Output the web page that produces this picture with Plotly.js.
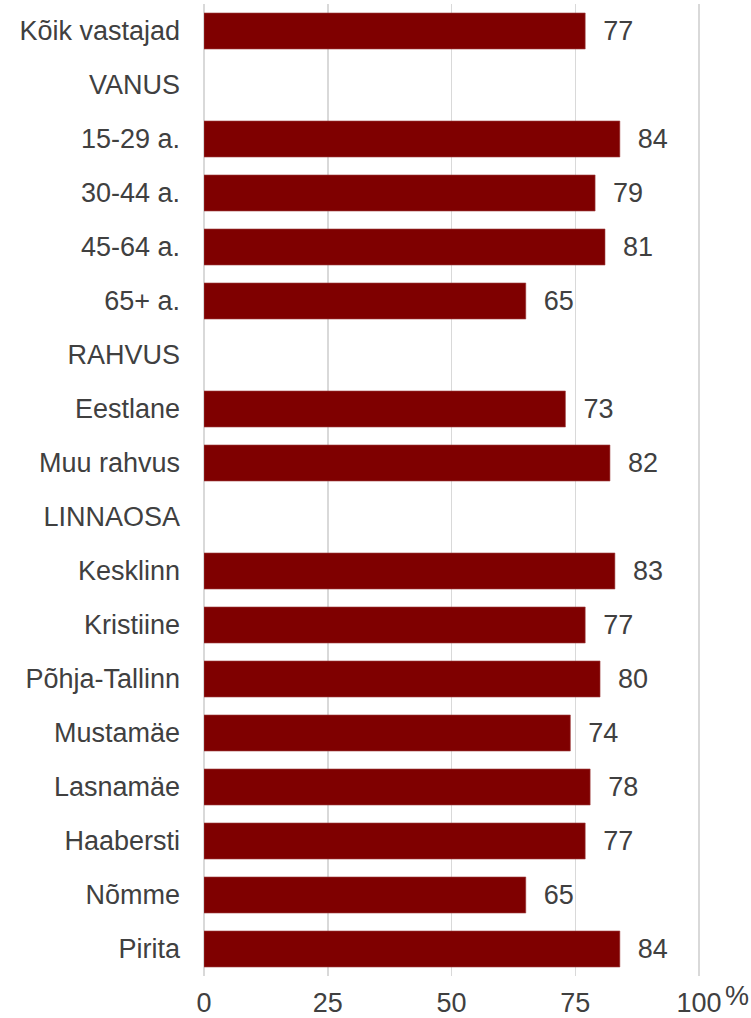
<!DOCTYPE html>
<html>
<head>
<meta charset="utf-8">
<script src="https://cdn.plot.ly/plotly-3.0.1.min.js"></script>
<style>
html,body{margin:0;padding:0;background:#fff;}
#chart{width:751px;height:1018px;}
</style>
</head>
<body>
<div id="chart"></div>
<script>
const categories = ["Kõik vastajad","VANUS","15-29 a.","30-44 a.","45-64 a.","65+ a.","RAHVUS","Eestlane","Muu rahvus","LINNAOSA","Kesklinn","Kristiine","Põhja-Tallinn","Mustamäe","Lasnamäe","Haabersti","Nõmme","Pirita"];
const values = [77,null,84,79,81,65,null,73,82,null,83,77,80,74,78,77,65,84];
const xTicks = [0,25,50,75,100];
const unitLabel = "%";

const trace = {
  type: "bar",
  orientation: "h",
  y: categories,
  x: values,
  marker: {color: "#7f0000", line: {color: "#a04040", width: 0.6}},
  texttemplate: "\u00a0\u00a0%{x}",
  textposition: "outside",
  cliponaxis: false,
  textfont: {family: "Liberation Sans, Arial, sans-serif", size: 27, color: "#404040"},
  hoverinfo: "none"
};

const layout = {
  width: 751, height: 1018,
  margin: {l: 203.5, r: 47, t: 4, b: 42},
  paper_bgcolor: "#fff", plot_bgcolor: "#fff",
  bargap: 0.333,
  showlegend: false,
  font: {family: "Liberation Sans, Arial, sans-serif", size: 27, color: "#404040"},
  xaxis: {
    range: [0, 101],
    tickvals: xTicks,
    ticktext: xTicks.map(String),
    showgrid: true, gridcolor: "#d9d9d9", gridwidth: 1.5,
    zeroline: true, zerolinecolor: "#d9d9d9", zerolinewidth: 1.5,
    showline: false, ticks: "",
    ticklabelstandoff: 8,
    tickfont: {size: 27, color: "#404040"},
    fixedrange: true
  },
  yaxis: {
    type: "category",
    categoryorder: "array",
    categoryarray: categories,
    autorange: "reversed",
    showgrid: false, zeroline: false, showline: false,
    ticks: "",
    ticklabelstandoff: 23,
    tickfont: {size: 27, color: "#404040"},
    fixedrange: true
  },
  annotations: [{
    x: 100, xref: "x", y: 0, yref: "paper",
    text: unitLabel, showarrow: false,
    xanchor: "left", yanchor: "top",
    xshift: 24, yshift: -3,
    font: {size: 27, color: "#404040"}
  }]
};

Plotly.newPlot("chart", [trace], layout, {staticPlot: true, displayModeBar: false});
</script>
</body>
</html>
